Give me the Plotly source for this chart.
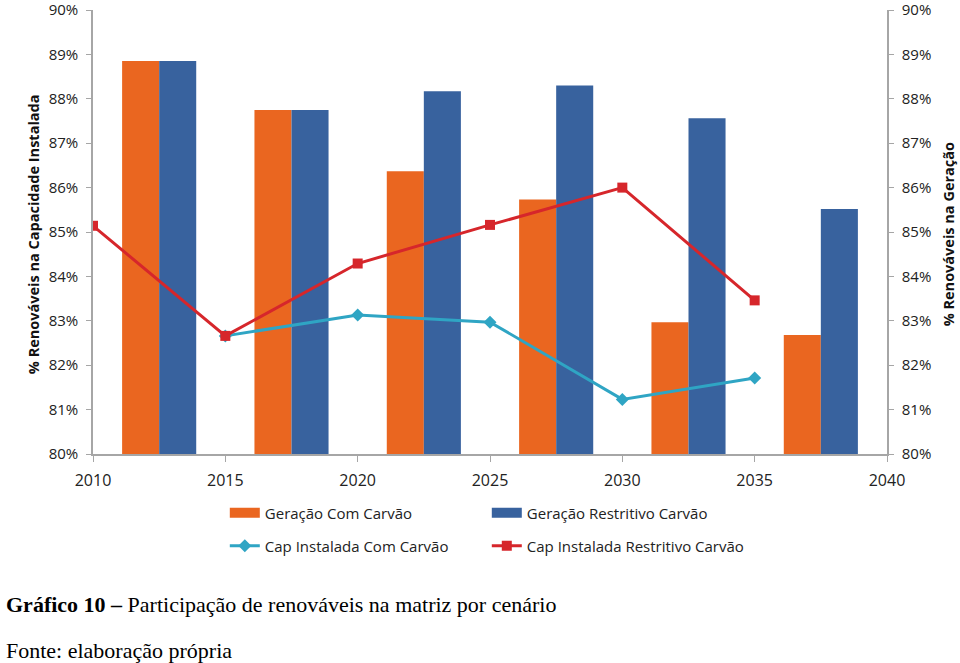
import plotly.graph_objects as go

# Data
bar_x = [2012.5, 2017.5, 2022.5, 2027.5, 2032.5, 2037.5]
ger_com = [88.85, 87.75, 86.37, 85.73, 82.97, 82.68]
ger_restr = [88.85, 87.75, 88.17, 88.30, 87.56, 85.52]

line_x_restr = [2010, 2015, 2020, 2025, 2030, 2035]
cap_restr = [85.14, 82.66, 84.29, 85.16, 86.00, 83.46]
line_x_com = [2015, 2020, 2025, 2030, 2035]
cap_com = [82.66, 83.13, 82.97, 81.23, 81.71]

yticks = [80, 81, 82, 83, 84, 85, 86, 87, 88, 89, 90]
ytick_text = [f"{v}%" for v in yticks]
xticks = [2010, 2015, 2020, 2025, 2030, 2035, 2040]

ORANGE = "#EA6620"
BLUE = "#38629E"
CYAN = "#2FA5C4"
RED = "#D6262B"
FONT = "Open Sans"

fig = go.Figure()
fig.add_trace(go.Bar(x=bar_x, y=ger_com, name="Geração Com Carvão",
                     marker=dict(color=ORANGE, line=dict(width=0)), showlegend=False))
fig.add_trace(go.Bar(x=bar_x, y=ger_restr, name="Geração Restritivo Carvão",
                     marker=dict(color=BLUE, line=dict(width=0)), showlegend=False))
# legend-only entries for the bars (wide rectangle swatches)
fig.add_trace(go.Scatter(x=[None], y=[None], name="Geração Com Carvão", mode="lines",
                         line=dict(color=ORANGE, width=12), legend="legend"))
fig.add_trace(go.Scatter(x=[None], y=[None], name="Geração Restritivo Carvão", mode="lines",
                         line=dict(color=BLUE, width=12), legend="legend"))
fig.add_trace(go.Scatter(x=line_x_com, y=cap_com, name="Cap Instalada Com Carvão",
                         mode="lines+markers", yaxis="y2",
                         line=dict(color=CYAN, width=3),
                         marker=dict(symbol="diamond", size=10, color=CYAN),
                         legend="legend2"))
fig.add_trace(go.Scatter(x=line_x_restr, y=cap_restr, name="Cap Instalada Restritivo Carvão",
                         mode="lines+markers", yaxis="y2",
                         line=dict(color=RED, width=3),
                         marker=dict(symbol="square", size=10, color=RED),
                         legend="legend2"))

axis_common = dict(range=[79.9999, 90.0001], tickvals=yticks, ticktext=ytick_text,
                   showgrid=False, zeroline=False, showline=True,
                   linecolor="#A6A6A6", linewidth=1.5, ticks="outside",
                   ticklen=5, tickcolor="#A6A6A6", automargin=False,
                   ticklabeloverflow="allow", ticklabelstandoff=5,
                   tickfont=dict(family=FONT, size=15, color="#222"))

leg_common = dict(orientation="h", x=0.166, xanchor="left", yanchor="middle",
                  entrywidth=217, entrywidthmode="pixels", itemwidth=30,
                  font=dict(family=FONT, size=15, color="#222"),
                  bgcolor="rgba(0,0,0,0)")

fig.update_layout(
    width=960, height=663,
    margin=dict(l=93, r=73, t=10, b=209, autoexpand=False),
    paper_bgcolor="white", plot_bgcolor="white",
    barmode="group", bargap=0.44, bargroupgap=0,
    font=dict(family=FONT, size=15, color="#222"),
    xaxis=dict(range=[2010, 2040], tickvals=xticks, showgrid=False, zeroline=False,
               showline=True, linecolor="#A6A6A6", linewidth=1.5, ticks="outside",
               ticklen=6, tickcolor="#A6A6A6", automargin=False,
               ticklabeloverflow="allow", ticklabelstandoff=5,
               tickfont=dict(family=FONT, size=16, color="#222")),
    yaxis=dict(side="right", **axis_common),
    yaxis2=dict(side="left", overlaying="y", **axis_common),
    legend=dict(y=-0.133, **leg_common),
    legend2=dict(y=-0.207, **leg_common),
    showlegend=True,
)

fig.add_annotation(text="<b>% Renováveis na Capacidade Instalada</b>", textangle=-90,
                   xref="paper", yref="paper", x=-0.0756, y=0.495, xanchor="center",
                   yanchor="middle", showarrow=False,
                   font=dict(family=FONT, size=14.5, color="#111"))
fig.add_annotation(text="<b>% Renováveis na Geração</b>", textangle=-90,
                   xref="paper", yref="paper", x=1.077, y=0.495, xanchor="center",
                   yanchor="middle", showarrow=False,
                   font=dict(family=FONT, size=14.5, color="#111"))
fig.add_annotation(text="<b>Gráfico 10 –</b> Participação de renováveis na matriz por cenário",
                   xref="paper", yref="paper", x=-0.112, y=(454 - 604) / 444,
                   xanchor="left", yanchor="middle", showarrow=False,
                   font=dict(family="Liberation Serif", size=22, color="#000"))
fig.add_annotation(text="Fonte: elaboração própria",
                   xref="paper", yref="paper", x=-0.112, y=(454 - 650) / 444,
                   xanchor="left", yanchor="middle", showarrow=False,
                   font=dict(family="Liberation Serif", size=22, color="#000"))

fig.write_html("out.html", config={"displayModeBar": False},
               post_script="document.body.style.margin='0';document.body.style.overflow='hidden';")
